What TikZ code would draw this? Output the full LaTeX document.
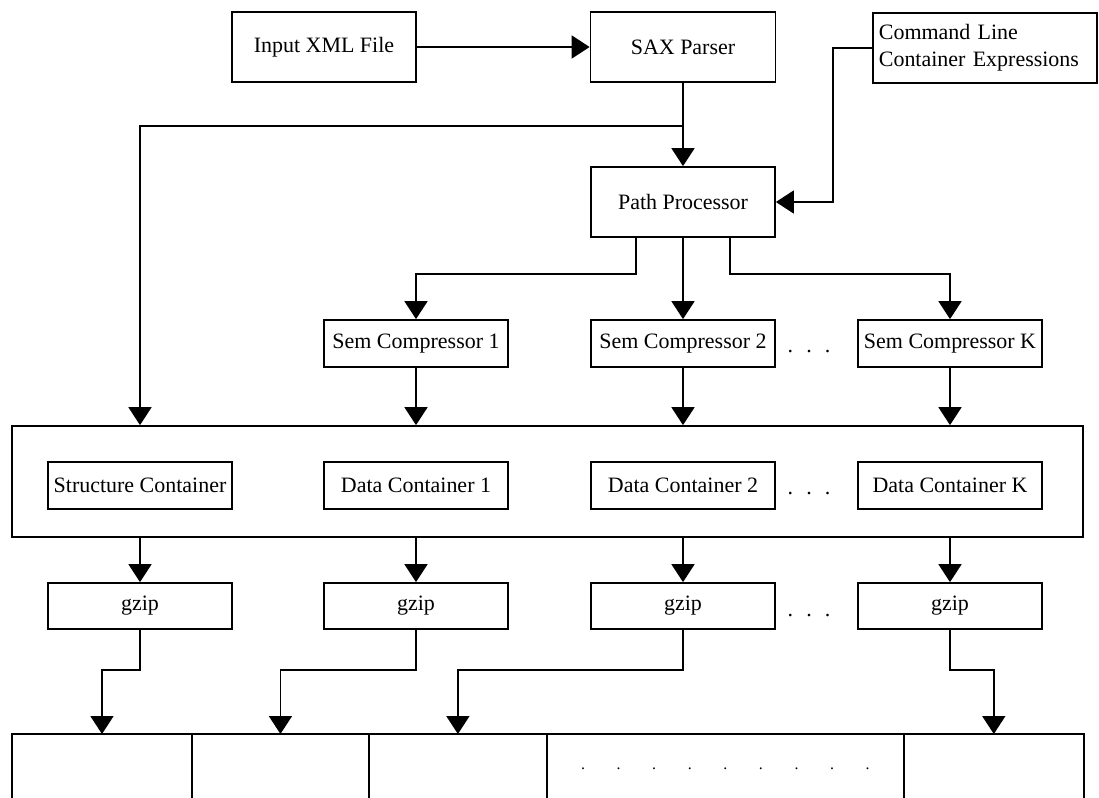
\documentclass[tikz,border=0pt]{standalone}
\usepackage{fontspec}
\setmainfont{Liberation Serif}
\usetikzlibrary{arrows.meta}

\newcommand{\gapdots}{.\hspace{0.6em}.\hspace{0.6em}.}

\begin{document}
\begin{tikzpicture}[x=0.02cm, y=-0.02cm,
		font=\fontsize{12.5}{15}\selectfont,
		box/.style={draw, line width=1pt, minimum width=3.68cm, minimum height=0.94cm, inner sep=0pt},
		cell/.style={draw, line width=1pt, anchor=north west, minimum height=1.4cm, outer sep=0pt},
		arr/.style={line width=1pt, -{Triangle[width=0.46cm, length=0.36cm]}}]
		\useasboundingbox (0, 0) rectangle (1099, 798);
		
		% input side
		\node[box, minimum height=1.4cm] (input) at (324, 47) {Input XML File};
		\node[box, minimum height=1.4cm, minimum width=3.7cm] (sax) at (683, 47) {SAX Parser};
		\node[box, anchor=north west, minimum height=1.4cm, text width=4.24cm, inner xsep=0.12cm, align=left] (cmd) at (872, 12) {Command Line\\Container Expressions};
		\draw[arr] (input) -- (sax);
		
		\node[box, minimum height=1.4cm] (pp) at (683, 202) {Path Processor};
		\draw[arr] (sax) -- (pp);
		\draw[arr] (cmd.west) -- +(-39, 0) |- (pp.east);
		
		% compressors
		\node[box] (sem1) at (416, 343.5) {Sem Compressor 1};
		\node[box] (sem2) at (683, 343.5) {Sem Compressor 2};
		\node[box] (semk) at (950, 343.5) {Sem Compressor K};
		\node (semdots) at (809, 352) {\gapdots};
		\draw[arr] ([xshift=-0.94cm]pp.south) -- +(0, 36) -| (sem1);
		\draw[arr] (pp) -- (sem2);
		\draw[arr] ([xshift=0.94cm]pp.south) -- +(0, 36) -| (semk);
		
		% containers
		\node[draw, line width=1pt, minimum width=21.42cm, minimum height=2.22cm] (store) at (547.5, 481.5) {};
		\node[box] (sc) at (140, 485.5) {Structure Container};
		\node[box] (dc1) at (416, 485.5) {Data Container 1};
		\node[box] (dc2) at (683, 485.5) {Data Container 2};
		\node[box] (dck) at (950, 485.5) {Data Container K};
		\node (dcdots) at (809, 494) {\gapdots};
		\draw[arr] (sax.south) -- +(0, 43) -| (sc |- store.north);
		\draw[arr] (sem1) -- (sem1 |- store.north);
		\draw[arr] (sem2) -- (sem2 |- store.north);
		\draw[arr] (semk) -- (semk |- store.north);
		
		% gzip
		\node[box, minimum height=0.92cm] (gz1) at (140, 606) {gzip};
		\node[box, minimum height=0.92cm] (gz2) at (416, 606) {gzip};
		\node[box, minimum height=0.92cm] (gz3) at (683, 606) {gzip};
		\node[box, minimum height=0.92cm] (gzk) at (950, 606) {gzip};
		\node (gzdots) at (809, 616) {\gapdots};
		\draw[arr] (sc |- store.south) -- (gz1);
		\draw[arr] (dc1 |- store.south) -- (gz2);
		\draw[arr] (dc2 |- store.south) -- (gz3);
		\draw[arr] (dck |- store.south) -- (gzk);
		
		% output stream
		\node[cell, minimum width=3.6cm] (out1) at (12, 734) {};
		\node[cell, minimum width=3.54cm] (out2) at (out1.north east) {};
		\node[cell, minimum width=3.56cm] (out3) at (out2.north east) {};
		\node[cell, minimum width=7.14cm, font=\small] (out4) at (out3.north east) {\foreach \i in {1,...,8}{.\hspace{2em}}.};
		\node[cell, minimum width=3.6cm] (out5) at (out4.north east) {};
		\draw[arr] (gz1.south) -- +(0, 40) -| (out1);
		\draw[arr] (gz2.south) -- +(0, 40) -| (out2);
		\draw[arr] (gz3.south) -- +(0, 40) -| (out3);
		\draw[arr] (gzk.south) -- +(0, 40) -| (out5);
	\end{tikzpicture}
\end{document}
